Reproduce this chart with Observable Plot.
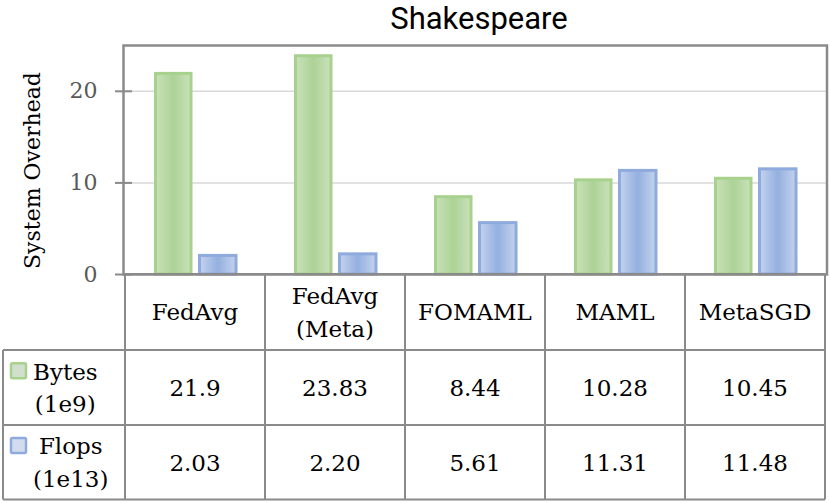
<!DOCTYPE html>
<html><head><meta charset="utf-8">
<script src="https://cdn.jsdelivr.net/npm/d3@7"></script>
<script src="https://cdn.jsdelivr.net/npm/@observablehq/plot@0.6"></script>
<style>
body{margin:0;background:#fff;}
#wrap{position:relative;width:830px;height:503px;overflow:hidden;background:#fff}
#title{position:absolute;left:128px;width:702px;top:0;text-align:center;font-family:Roboto;font-size:31px;line-height:normal;color:#000}
#chart{position:absolute;left:0;top:38px}
#table{position:absolute;left:0;top:270px}
</style></head>
<body>
<div id="wrap">
  <div id="title">Shakespeare</div>
  <div id="chart"></div>
  <div id="table"></div>
</div>
<script>
const categories = ["FedAvg", "FedAvg (Meta)", "FOMAML", "MAML", "MetaSGD"];
const categoryLines = [["FedAvg"], ["FedAvg", "(Meta)"], ["FOMAML"], ["MAML"], ["MetaSGD"]];
const bytes = [21.9, 23.83, 8.44, 10.28, 10.45];
const flops = [2.03, 2.20, 5.61, 11.31, 11.48];
const bytesLabels = ["21.9", "23.83", "8.44", "10.28", "10.45"];
const flopsLabels = ["2.03", "2.20", "5.61", "11.31", "11.48"];
const seriesLines = [["Bytes", "(1e9)"], ["Flops", "(1e13)"]];
const yTicks = [0, 10, 20];
const gridTicks = [10, 20];
const yLabel = "System Overhead";

const green = "#a9d18e", blue = "#8faadc", lineGray = "#8a8a8a";
const serif = "DejaVu Serif";

const data = categories.map((c, i) => ({category: c, bytes: bytes[i], flops: flops[i]}));

const plot = Plot.plot({
  width: 830, height: 252,
  marginLeft: 123, marginRight: 3.5, marginTop: 7, marginBottom: 16,
  x: {domain: categories, padding: 0, axis: null},
  y: {domain: [0, 25], axis: null},
  style: {background: "transparent", fontFamily: serif},
  marks: [
    Plot.gridY(gridTicks, {stroke: "#d9d9d9", strokeOpacity: 1, strokeWidth: 1.5}),
    Plot.barY(data, {x: "category", y: "bytes", fill: "url(#gradGreen)", stroke: green, strokeWidth: 3, insetLeft: 30.5, insetRight: 74}),
    Plot.barY(data, {x: "category", y: "flops", fill: "url(#gradBlue)", stroke: blue, strokeWidth: 3, insetLeft: 74.5, insetRight: 29}),
    Plot.frame({stroke: lineGray, strokeWidth: 2.5}),
    Plot.axisY({ticks: yTicks, tickSize: 17, dx: 9, tickPadding: 18, stroke: lineGray, strokeWidth: 2, fill: "#595959", fontSize: 22, fontFamily: serif, label: null}),
    Plot.text([yLabel], {frameAnchor: "left", textAnchor: "middle", lineAnchor: "middle", rotate: -90, dx: -91, dy: 10.5, fontSize: 22, fontFamily: serif, fill: "#000"})
  ]
});

const svg = d3.select(plot);
const defs = svg.insert("defs", ":first-child");
function grad(id, edge, mid) {
  const g = defs.append("linearGradient").attr("id", id).attr("x1", 0).attr("x2", 1).attr("y1", 0).attr("y2", 0);
  g.append("stop").attr("offset", 0).attr("stop-color", edge);
  g.append("stop").attr("offset", 0.5).attr("stop-color", mid);
  g.append("stop").attr("offset", 1).attr("stop-color", edge);
}
grad("gradGreen", "#cae1bb", "#acd296");
grad("gradBlue", "#c4d3ee", "#94b0df");
document.getElementById("chart").appendChild(plot);

// data table below the chart, aligned with the plot's x scale
const xs = plot.scale("x");
const bw = xs.bandwidth;
const top0 = 270; // page y of table svg
const rowY = [274, 350, 425, 499.5].map(v => v - top0);
const leftX = 3;
const rightX = xs.apply(categories[categories.length - 1]) + bw;
const tsvg = d3.select("#table").append("svg").attr("width", 830).attr("height", 233)
  .style("font-family", serif).style("font-size", "23px");
const lines = tsvg.append("g").attr("stroke", lineGray).attr("stroke-width", 2);
// horizontal lines
lines.append("line").attr("x1", xs.apply(categories[0])).attr("x2", rightX).attr("y1", rowY[0]).attr("y2", rowY[0]);
for (let r = 1; r < rowY.length; r++) lines.append("line").attr("x1", leftX).attr("x2", rightX).attr("y1", rowY[r]).attr("y2", rowY[r]);
// vertical lines
categories.forEach(c => lines.append("line").attr("x1", xs.apply(c)).attr("x2", xs.apply(c)).attr("y1", rowY[0]).attr("y2", rowY[3]));
lines.append("line").attr("x1", rightX).attr("x2", rightX).attr("y1", rowY[0]).attr("y2", rowY[3]);
lines.append("line").attr("x1", leftX).attr("x2", leftX).attr("y1", rowY[1]).attr("y2", rowY[3]);

function multiLine(g, x, yc, arr, anchor) {
  const lh = 32.5;
  const t = g.append("text").attr("text-anchor", anchor || "middle").attr("fill", "#000");
  arr.forEach((s, k) => t.append("tspan").attr("x", x).attr("y", yc + (k - (arr.length - 1) / 2) * lh).attr("dy", "0.36em").text(s));
  return t;
}
const tg = tsvg.append("g");
categories.forEach((c, i) => {
  const cx = xs.apply(c) + bw / 2;
  multiLine(tg, cx, (rowY[0] + rowY[1]) / 2, categoryLines[i]);
  multiLine(tg, cx, (rowY[1] + rowY[2]) / 2, [bytesLabels[i]]);
  multiLine(tg, cx, (rowY[2] + rowY[3]) / 2, [flopsLabels[i]]);
});
// row headers with legend swatches
[[green, "#d2dfcc"], [blue, "#d3dcee"]].forEach(([col, fillc], r) => {
  const yc = (rowY[r + 1] + rowY[r + 2]) / 2;
  const firstY = yc - 32.5 / 2;
  tsvg.append("rect").attr("x", 11).attr("y", firstY - 8).attr("width", 15).attr("height", 15)
    .attr("fill", fillc).attr("stroke", col).attr("stroke-width", 2.5).attr("rx", 1.5);
  const t = multiLine(tg, 0, yc, seriesLines[r], "middle");
  const w = t.node().getBBox().width;
  t.selectAll("tspan").attr("x", 33 + w / 2);
});
</script>
</body></html>
